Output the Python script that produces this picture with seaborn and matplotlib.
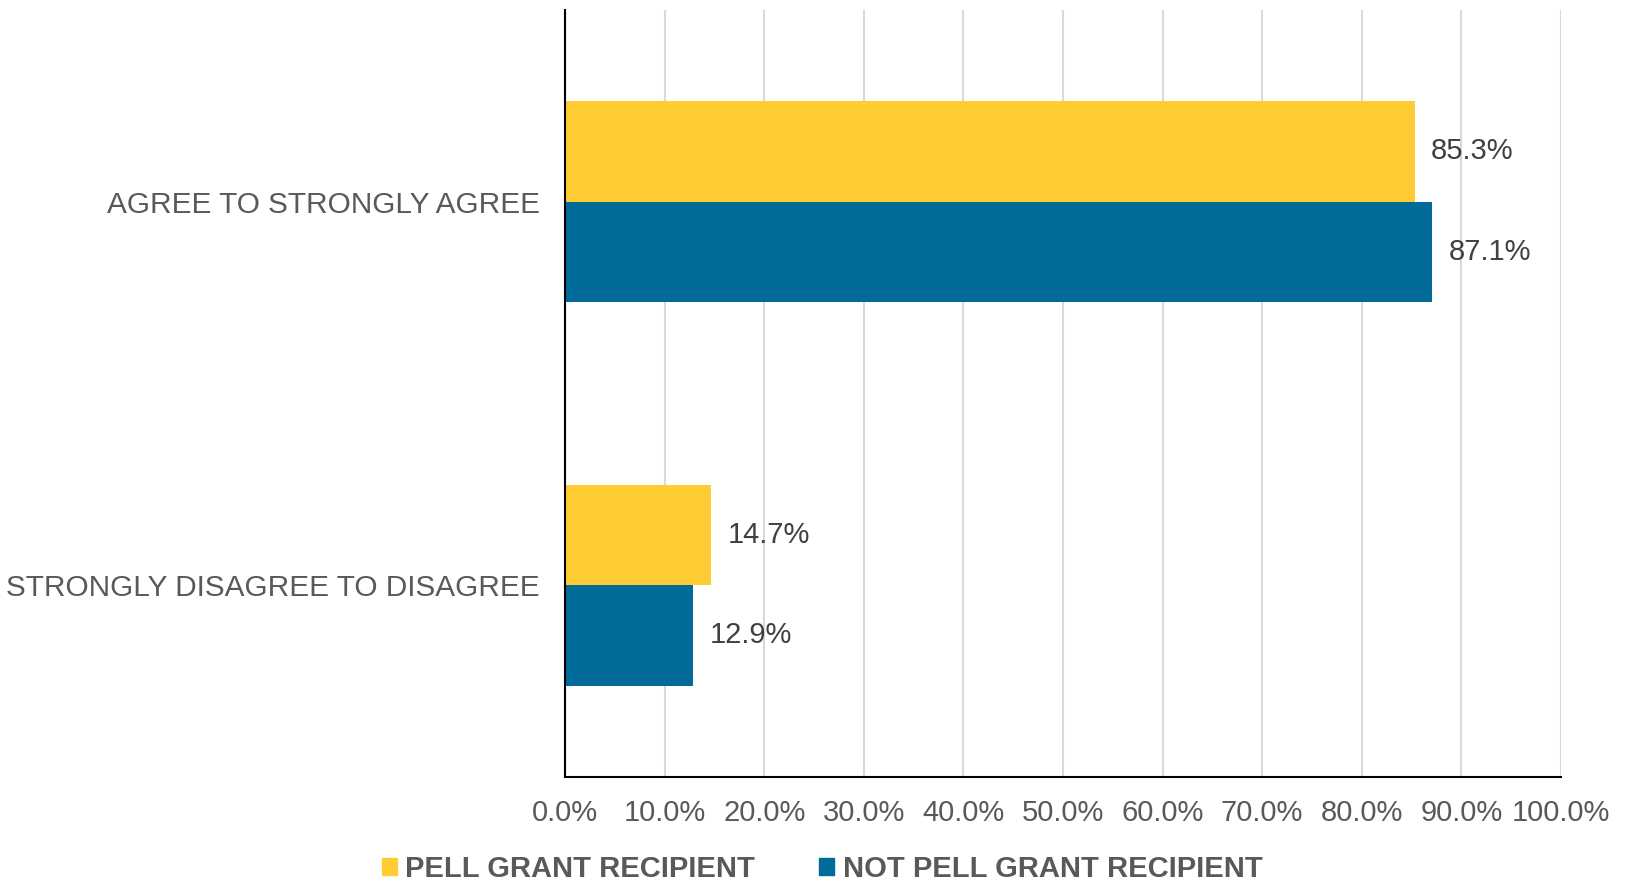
import pandas as pd
import seaborn as sns
import matplotlib.pyplot as plt
from matplotlib.ticker import PercentFormatter
from matplotlib.patches import Patch

categories = ["AGREE TO STRONGLY AGREE", "STRONGLY DISAGREE TO DISAGREE"]
groups = ["PELL GRANT RECIPIENT", "NOT PELL GRANT RECIPIENT"]
pell = [85.3, 14.7]
not_pell = [87.1, 12.9]

df = pd.DataFrame({
    "response": categories * 2,
    "group": [groups[0]] * 2 + [groups[1]] * 2,
    "pct": pell + not_pell,
})

sns.set_style("white")
plt.rcParams["font.family"] = ["Liberation Sans", "DejaVu Sans"]
gray = "#595959"

fig = plt.figure(figsize=(16.25, 8.83), dpi=100)
ax = fig.add_axes([0.3477, 0.120, 0.6129, 0.869])

sns.barplot(data=df, y="response", x="pct", hue="group", orient="h",
            palette=["#FFCC33", "#006A98"], width=0.524, ax=ax,
            saturation=1, legend=False, linewidth=0)

for cont in ax.containers:
    ax.bar_label(cont, fmt="%.1f%%", padding=12, fontsize=21, color="#404040")

ax.set_xlim(0, 100)
ax.set_ylim(1.5, -0.5)
ax.set_xticks(range(0, 101, 10))
ax.xaxis.set_major_formatter(PercentFormatter(decimals=1))
ax.grid(axis="x", color="#D9D9D9", linewidth=1.5)
ax.set_axisbelow(True)
for s in ["top", "right"]:
    ax.spines[s].set_visible(False)
for s in ["left", "bottom"]:
    ax.spines[s].set_color("black")
    ax.spines[s].set_linewidth(1.5)
ax.tick_params(axis="x", labelsize=21, labelcolor=gray, length=0, pad=16)
ax.tick_params(axis="y", labelsize=21.4, labelcolor=gray, length=0, pad=18)
ax.set_xlabel("")
ax.set_ylabel("")

handles = [Patch(color="#FFCC33"), Patch(color="#006A98")]
fig.legend(handles, groups, loc="center", bbox_to_anchor=(0.506, 0.016), ncol=2,
           frameon=False, handlelength=0.5, handleheight=0.5, handletextpad=0.3,
           columnspacing=2.2, labelcolor=gray,
           prop={"family": "Liberation Sans", "weight": "bold", "size": 21})

fig.savefig("out.png", dpi=100, facecolor="white")
